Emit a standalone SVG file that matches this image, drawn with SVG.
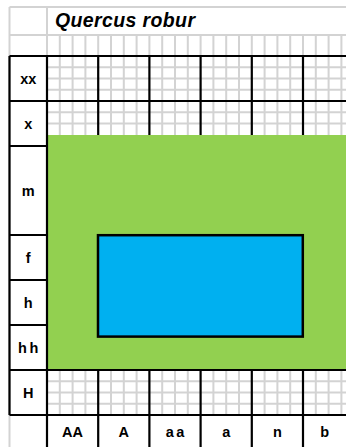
<svg xmlns="http://www.w3.org/2000/svg" width="346" height="447" viewBox="0 0 346 447">
<style>
.g{stroke:#d3d3d3;stroke-width:2;fill:none}
.k{stroke:#000;stroke-width:2.2;fill:none}
.lbl{font-family:"Liberation Sans",Arial,sans-serif;font-weight:bold;font-size:14.5px;fill:#000;text-anchor:middle}
.sp{word-spacing:-1.5px}
.ttl{font-family:"Liberation Sans",Arial,sans-serif;font-weight:bold;font-style:italic;font-size:19.5px;fill:#000}
</style>
<rect width="346" height="447" fill="#fff"/>
<g id="grid-minor">
<path class="g" d="M9.5 7H346M9.5 35H346M9.5 7V447M47 7V35"/>
<path class="g" d="M59.8 35V415M72.6 35V415M85.4 35V415M111 35V415M123.8 35V415M136.6 35V415M162.2 35V415M175 35V415M187.8 35V415M213.4 35V415M226.2 35V415M239 35V415M264.6 35V415M277.4 35V415M290.2 35V415M315.8 35V415M328.6 35V415M341.4 35V415"/>
<path class="g" d="M47 35V56M98.2 35V56M149.4 35V56M200.6 35V56M251.8 35V56M303 35V56"/>
<path class="g" d="M47 67.25H346M47 78.5H346M47 89.75H346M47 112.25H346M47 123.5H346M47 381.25H346M47 392.5H346M47 403.75H346"/>
</g>
<g id="grid-major">
<path class="k" d="M9.5 56H346M9.5 101H346M9.5 146H47M9.5 235H47M9.5 280H47M9.5 325H47M9.5 415H346"/>
<path class="k" d="M9.5 56V415M98.2 56V447M149.4 56V447M200.6 56V447M251.8 56V447M303 56V447"/>
</g>
<g id="green-zone">
<rect x="48" y="135" width="298" height="235" fill="#92d050"/>
</g>
<g id="grid-overlay">
<path class="k" d="M9.5 370H346M47 56V447"/>
</g>
<g id="blue-zone">
<rect x="98" y="235.2" width="204.8" height="101.4" fill="#00b0f0" stroke="#000" stroke-width="2.5"/>
</g>
<g id="title">
<text class="ttl" x="55" y="26.5" textLength="140" lengthAdjust="spacing">Quercus robur</text>
</g>
<g id="row-labels">
<g id="row-xx"><text class="lbl" x="28.2" y="83.7">xx</text></g>
<g id="row-x"><text class="lbl" x="28.2" y="128.7">x</text></g>
<g id="row-m"><text class="lbl" x="28.2" y="195.7">m</text></g>
<g id="row-f"><text class="lbl" x="28.2" y="262.7">f</text></g>
<g id="row-h"><text class="lbl" x="28.2" y="307.7">h</text></g>
<g id="row-hh"><text class="lbl sp" x="28.2" y="352.7">h h</text></g>
<g id="row-H"><text class="lbl" x="28.2" y="397.7">H</text></g>
</g>
<g id="col-labels">
<g id="col-AA"><text class="lbl" x="72.6" y="437">AA</text></g>
<g id="col-A"><text class="lbl" x="123.8" y="437">A</text></g>
<g id="col-aa"><text class="lbl sp" x="175" y="437">a a</text></g>
<g id="col-a"><text class="lbl" x="226.2" y="437">a</text></g>
<g id="col-n"><text class="lbl" x="277.4" y="437">n</text></g>
<g id="col-b"><text class="lbl" x="324.6" y="437">b</text></g>
</g>
</svg>
